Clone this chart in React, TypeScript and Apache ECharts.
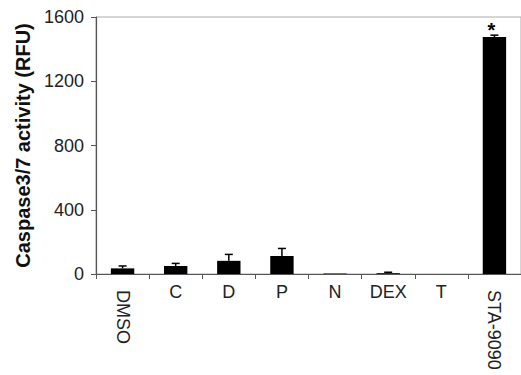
import React, { useEffect, useRef } from "react";
import * as echarts from "echarts";

const categories = ["DMSO", "C", "D", "P", "N", "DEX", "T", "STA-9090"];
const activity = [35, 50, 82, 112, 3, 5, 0, 1475];
const errors = [15, 16, 40, 47, 0, 6, 0, 12];
const significance = ["", "", "", "", "", "", "", "*"];
const rotatedLabels = ["DMSO", "STA-9090"];
const yTicks = { min: 0, max: 1600, interval: 400 };
const yTitle = "Caspase3/7 activity (RFU)";

const FONT = "'Liberation Sans', Arial, sans-serif";
const AXIS_COLOR = "#555";

export default function App() {
  const ref = useRef<HTMLDivElement>(null);

  useEffect(() => {
    if (!ref.current) return;
    const chart = echarts.init(ref.current, null, { renderer: "svg" });

    const barData = activity.map((v, i) =>
      significance[i]
        ? {
            value: v,
            label: {
              show: true,
              position: "top",
              distance: -3,
              offset: [-3, 0],
              formatter: significance[i],
              fontSize: 20,
              fontWeight: "bold",
              color: "#000",
              fontFamily: FONT,
            },
          }
        : v
    );

    const errData = categories.map((_, i) => [i, activity[i], errors[i]]);

    chart.setOption({
      animation: false,
      backgroundColor: "#fff",
      textStyle: { fontFamily: FONT },
      grid: {
        left: 96,
        right: -3,
        top: 17,
        bottom: 101,
        show: true,
        borderColor: "#aaa",
        borderWidth: 1,
        backgroundColor: "transparent",
      },
      xAxis: [
        {
          type: "category",
          position: "bottom",
          data: categories,
          axisLine: { show: true, lineStyle: { color: AXIS_COLOR, width: 1.2 } },
          axisTick: { show: true, length: 5, lineStyle: { color: AXIS_COLOR } },
          axisLabel: {
            interval: 0,
            margin: 9,
            fontSize: 18,
            color: "#222",
            fontFamily: FONT,
            formatter: (v: string) => (rotatedLabels.includes(v) ? "" : v),
          },
          splitLine: { show: false },
        },
        {
          type: "category",
          position: "bottom",
          data: categories,
          axisLine: { show: false },
          axisTick: { show: false },
          axisLabel: {
            interval: 0,
            rotate: -90,
            margin: 16,
            fontSize: 18,
            color: "#222",
            fontFamily: FONT,
            formatter: (v: string) => (rotatedLabels.includes(v) ? v : ""),
          },
          splitLine: { show: false },
        },
      ],
      yAxis: {
        type: "value",
        min: yTicks.min,
        max: yTicks.max,
        interval: yTicks.interval,
        name: yTitle,
        nameLocation: "middle",
        nameGap: 62,
        nameRotate: 90,
        nameTextStyle: {
          fontSize: 20,
          fontWeight: "bold",
          color: "#111",
          fontFamily: FONT,
        },
        axisLine: { show: true, lineStyle: { color: AXIS_COLOR, width: 1.2 } },
        axisTick: { show: true, length: 5, lineStyle: { color: AXIS_COLOR } },
        axisLabel: {
          margin: 12,
          fontSize: 18,
          color: "#222",
          fontFamily: FONT,
          formatter: (v: number) => String(v),
        },
        splitLine: { show: false },
      },
      series: [
        {
          type: "bar",
          xAxisIndex: 0,
          data: barData,
          barWidth: "44%",
          itemStyle: { color: "#000" },
        },
        {
          type: "custom",
          xAxisIndex: 0,
          data: errData,
          renderItem: (params: any, api: any) => {
            const idx = api.value(0);
            const v = api.value(1);
            const e = api.value(2);
            if (!e) return null;
            const base = api.coord([idx, v]);
            const top = api.coord([idx, v + e]);
            const half = 4;
            const style = { stroke: "#000", lineWidth: 1.5 };
            return {
              type: "group",
              children: [
                {
                  type: "line",
                  shape: { x1: base[0], y1: base[1], x2: top[0], y2: top[1] },
                  style,
                },
                {
                  type: "line",
                  shape: { x1: top[0] - half, y1: top[1], x2: top[0] + half, y2: top[1] },
                  style,
                },
              ],
            };
          },
          z: 3,
        },
      ],
    });

    return () => chart.dispose();
  }, []);

  return (
    <div
      ref={ref}
      style={{ position: "absolute", left: 0, top: 0, width: 521, height: 375 }}
    />
  );
}
